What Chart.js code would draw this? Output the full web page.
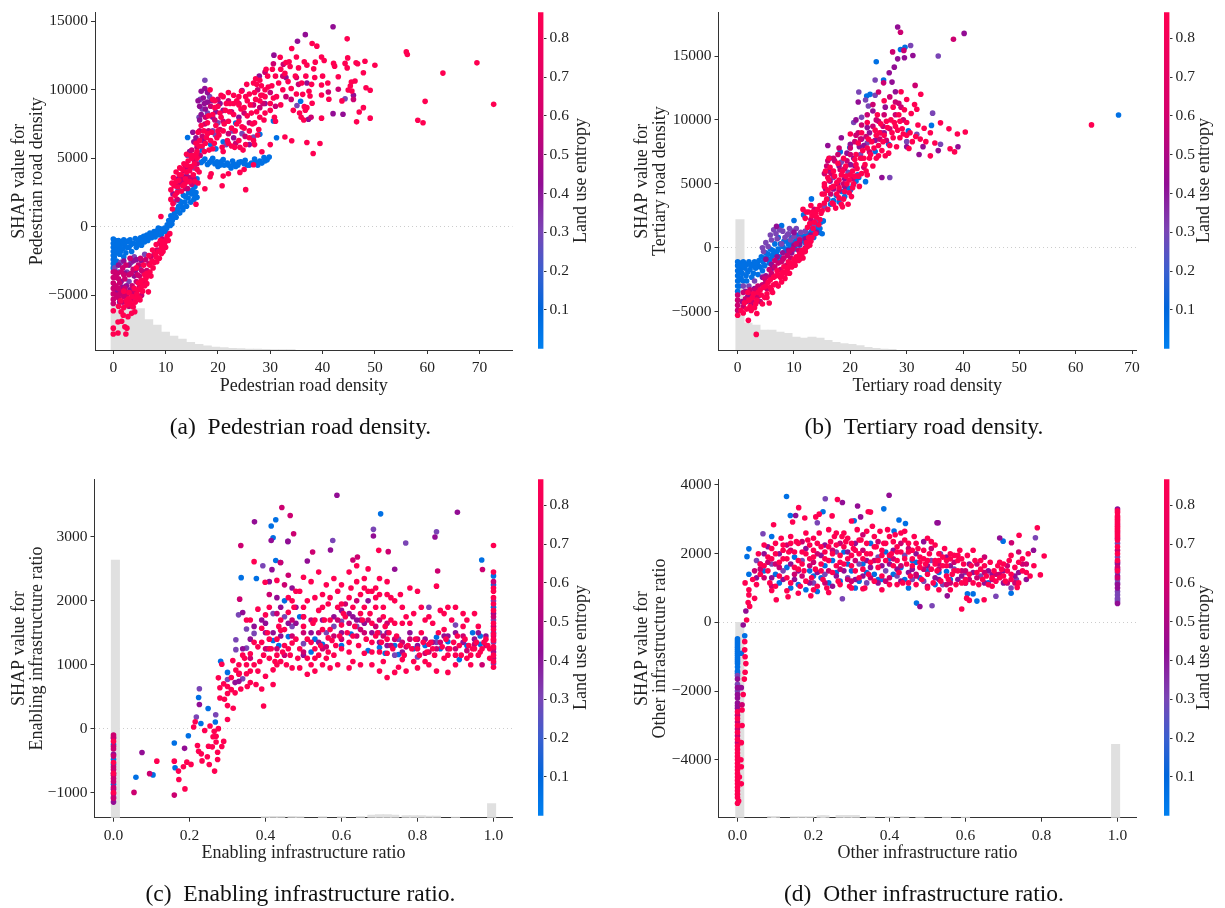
<!DOCTYPE html>
<html><head><meta charset="utf-8">
<script src="https://cdn.jsdelivr.net/npm/chart.js@4"></script>
<style>html,body{margin:0;padding:0;background:#fff;width:1225px;height:908px;overflow:hidden}canvas{position:absolute}</style>
</head><body>
<script>
// entropy level of each colour group, and the colour map of the colour bar
const entropyLevels=[0.05,0.3,0.42,0.6,0.82];
const mapStops=[[0,'#0080f0'],[0.12,'#0066dc'],[0.23,'#3a5fcf'],[0.35,'#7a45b5'],[0.49,'#920d94'],[0.7,'#d4006c'],[1,'#ff0051']];
const groupColors=['#0070e4','#7a45b5','#920d94','#cc0070','#ff0051'];
const cbTicks=[0.1,0.2,0.3,0.4,0.5,0.6,0.7,0.8];

// (a)
const aXT=[0,10,20,30,40,50,60,70], aYT=[-5000,0,5000,10000,15000];
const aBlue=[0,-900,0,-1200,0,-1500,0,-1800,0,-2100,0,-2400,0,-2700,0,-3000,.4,-1000,.5,-1400,.5,-1900,.6,-2500,1,-1000,1.1,-1500,1.2,-2000,1.6,-1100,1.8,-1600,2,-950,2.2,-1300,2.4,-1900,2.8,-1050,3,-1500,3.2,-950,3.5,-1800,3.8,-1200,4.2,-850,4.4,-1500,4.8,-1050,5.2,-800,5.4,-1350,5.8,-700,6,-1100,6.4,-600,6.6,-1000,7,-450,7.3,-800,7.8,-350,8,-750,8.4,-300,8.8,-600,9,-150,9.4,-350,9.8,-100,10,-350,10.3,150,10.6,450,10.9,100,11,800,11.3,500,11.7,1000,12,700,12.3,1300,12.7,1000,13,1500,13.3,1250,13.7,1800,14,1500,14.3,2100,14.8,1800,15,2400,15.4,2000,15.8,2500,16,2150,15.6,2950,14.6,2600,13.4,2300,12.6,1900,16.8,4700,17.5,4950,18,4550,18.8,4850,19.4,4600,20,4400,20.6,4750,21.2,4500,21.8,4650,22.5,4300,23,4600,23.8,4500,24.4,4750,25.2,4850,25.6,4500,26.4,4650,27,4950,27.6,4500,28.4,4650,28.8,5050,29.4,4900,29.8,5100,28,6760,31.2,6500,14.2,6520,19.6,5690,35.8,9170,23.4,7580,30.6,7730,18.6,6000,21,6200,16.2,5400,17,5600,13.2,3200,12.4,2700,15,3400,16,3500];
const aBlue2=[1.4,-1300,2.6,-1500,3.4,-1300,4.6,-1200,5,-1300,5.6,-1000,6.2,-900,6.8,-700,7.5,-600,8.2,-550,8.6,-100,9.2,-550,9.6,-250,10.2,-100,10.8,300,11.2,200,11.5,800,12,1100,12.5,1500,13,1800,13.8,2200,14.4,2500,15.2,2700,15.6,2300,.2,-1300,.3,-1700,.2,-2200,.3,-2700,.8,-1300,.9,-1800,1.4,-1800,2,-2200,17.2,4800,18.4,4700,19,5000,19.8,4750,20.4,4500,21,4900,22,4500,22.8,4800,23.4,4400,24,4700,25,4600,26,4500,27.2,4700,28,4800,29,4800];
const aViolet=[17.5,10700,16.6,9300,17,8600,16.4,8000,18,8300,19,7000,20,7600,21.6,6000,22.8,7000,35.1,8850,26.8,6550,24.6,6800,13,3100,14.2,5200,11.6,1800,5,-3000,3.4,-2600,1.4,-2600,2.6,-3300,.3,-3000,4,-2200,6,-2000,44.3,9350,18.4,9500,3,-4000,1,-3300,19.5,6700,15.5,4300];
const aPurple=[36.7,14030,35.2,13550,30.7,12530,27.9,11000,42,14610,42,8260,43.9,8220,37.3,7850,16.5,8800,16.8,9900,17.2,9400,16.5,7800,17.6,8600,18,9100,15.8,6500,15.2,6900,17.5,10100,24.6,9950,19,8000,21,8500,23,6500,24,8000,29,9000,33,10900,1,-2800,2,-2500,3,-2800,4.4,-2400,.5,-3500,1.5,-4000,2.5,-4300,4,-3600,5.4,-2500,.2,-4400,26,6000,14,3700,12.4,3500,11.4,2400,45.9,9600,37,10500];
const aPurple3=[.7,-4700,1.7,-4400,3.2,-4600,4.2,-3200,2.2,-3400,3.8,-2500,1.2,-5500,16.2,9200,16.8,8200,17.4,9000,18,9800,18.8,9200,19.6,8400,20.4,9000,15.4,6200,14.6,5500,13.8,4400,13,3700,12,3000,16,6200,17.2,6300];
const aMag=[0,-3300,0,-3700,0,-4100,0,-4500,0,-4900,0,-5300,0,-5600,.4,-3700,.5,-4300,.6,-5000,1,-3800,1,-4500,1,-5200,1.5,-3300,1.6,-4700,1.8,-5500,2,-3500,2,-5100,2.4,-2800,2.8,-4800,3,-3500,3,-5800,3.4,-5300,3.6,-4300,3.8,-3100,4.2,-4800,4.6,-3500,5,-3600,5,-4400,5.4,-5000,5.8,-3300,6.2,-2400,14.2,2800,14.6,3600,15.4,4900,16,5800,16.5,7000,17.5,7500,15,5600,13.5,4100,30.6,11900,29,11290,32.5,11860,41.1,9840,43,10040,45.9,9300,37.8,8000,35,10900,33,9500,28,8700,25,8300,22,9200,20,9300];
const aMag2=[.3,-3300,.8,-3400,1.2,-4100,1.3,-4900,1.8,-3000,2.2,-3800,2.2,-4500,2.6,-5000,3.2,-2300,3.4,-3400,3.6,-4800,4,-5100,4.4,-4000,4.8,-2800,5.2,-2300,5.4,-3200,5.8,-4000,6.4,-3200,6.8,-2700,7.2,-2200,7.8,-2000,8.4,-1700,8.8,-1200,9.4,-900,12.2,2000,12.8,3200,13.4,3400,13.8,2800,14.4,4300,15,3100,15.4,3500,16,4600,16.6,5200,17,6600,17.6,8000,18.2,7000,18.6,8800,19.4,7800,20.4,7100,21,7700,22,6800,22.6,8400,23.4,6100,24,9000,25.2,6600,26,7600,26.8,8900,27.6,10000,28.6,9000,30,9800,31,8800,32.4,11000,34,9300,35.4,10400];
const aRed=[0,-6130,0,-7400,0,-7830,.9,-7760,.9,-6950,1.6,-6900,2.2,-7300,2.6,-7400,2.4,-7830,1.9,-6450,2.8,-6560,3.5,-6320,4.1,-6200,2.9,-5250,6.7,-4750,6.4,-4150,7,-3300,8.3,-2550,9.2,-1950,10.5,-1000,10.8,-500,5.1,-5350,3.8,-5850,1,-5800,1.5,-6200,2,-5900,2.5,-5400,3.5,-5700,4.2,-5500,4.5,-4900,5,-5200,5.2,-4500,5.6,-4700,6,-4300,6.2,-3800,6.6,-3600,7,-2800,7.4,-2500,7.6,-3000,8,-2000,8.6,-1800,9.2,-1500,9.5,-1800,9.8,-1200,10,-1500,10.3,-700,5.5,-3900,4.8,-4100,5.8,-2800,6.8,-2100,7.5,-1700,8.2,-1300,9,-1000,4.4,-3000,9.1,750,11.3,1300,11,2000,11,2700,11.2,3200,11.5,3600,11.8,2300,12,4000,12.3,2900,12.5,3400,12.7,4300,13,3800,13.3,3000,13.5,4600,13.8,3500,14,4000,14.3,4800,14.6,3300,14.8,4400,15,5000,15.3,3800,15.5,4600,15.8,5300,16,4200,16.2,3200,17.5,2780,15.8,1650,16,5500,16.5,6300,17,5900,17.3,7000,17.8,6500,18,7600,18.3,5600,18.8,6900,19,8200,19.3,6100,19.6,7400,20,8800,20.2,6700,20.6,8000,21,5500,21,7000,21.4,8500,21.8,6300,22,7700,22.3,9000,22.6,5900,23,8200,23.3,7000,23.6,9200,24,6300,24,7700,24.4,8600,24.8,5600,25,7200,25.3,9500,25.6,8100,26,6500,26.2,8900,26.6,7500,27,9800,27,6000,27.4,8400,27.8,7100,28,9200,28.3,10300,18.7,3870,18.5,3650,21,3700,20.8,3000,22,3870,24.2,3970,25.3,2710,25,4180,26.8,4530,28.4,5480,18.5,10000,19,9300,21,9500,25.5,10400,24.5,9900,27.4,10400,28,10700,28.5,9600,29,8300,29,10000,29.5,11000,30,9000,30.3,10300,30.8,8000,31,11000,31.2,9500,31.6,10500,32,11500,32,8900,32.4,10000,32.8,11200,33.4,10600,33.8,11700,34,10100,34.4,8500,34.8,11000,35,9700,35.4,11600,35.6,8300,36,10500,36.4,7800,36.8,11000,37,8700,37.4,9900,30,6000,32.8,6560,34.1,6280,34.1,13020,31.9,12380,33.6,12050,36.5,12050,38,13380,38.9,13190,39.8,12400,40.3,12140,38.6,12020,38.3,11530,42.1,11930,42.3,11730,44.3,11930,44.8,12330,44.7,11600,44.7,13720,46.4,11970,46.7,11900,48.1,12090,50,11790,47.8,11250,43,10950,46.2,10640,45.5,10570,45.3,10280,44.9,9990,45.6,9910,48.3,10150,49.1,9970,39.8,10350,37.9,10400,37.6,9550,39.8,9620,36.2,9670,41.2,9310,43.7,9190,38,9020,36.5,8770,36.7,8510,39.8,7930,35.9,8000,47,8380,47.8,8700,49.1,7930,46.5,7660,37,6150,39.5,6080,38.2,5350,40,11000,41,10500,38.5,10900,56,12770,56.2,12580,69.5,11970,63,11220,59.6,9160,58.2,7780,59.2,7600,72.7,8940];
const aRed2=[16.2,6900,16.8,7400,17.6,6100,18.2,8100,18.6,6300,19,5700,19.4,8700,19.8,6500,20,7000,20.4,8300,20.8,5800,21.2,7500,21.6,9000,22,6100,22.2,8400,22.6,7200,23,9000,23.2,5800,23.6,7500,24,8900,24.2,5800,24.6,7300,25,8700,25.3,6000,25.6,9200,26,7000,26.4,8300,26.8,6300,27,7600,27.2,9300,27.6,6700,28,8000,28.2,9600,28.8,7800,29,9500,29.6,10200,30,8500,30.6,9400,31,7700,11.4,1700,11.6,3000,12,3300,12.2,2500,12.6,3800,13,2600,13.2,4200,13.6,3100,14,4500,14.2,3300,14.6,4100,15,4400,15.3,5200,15.6,3300,16,5000,16.4,4000,1.4,-5400,2,-4700,2.6,-5700,3,-4800,3.2,-5500,3.6,-5100,4,-4500,4.4,-5200,4.8,-4600,5.2,-4000,5.6,-4300,6,-3500,6.4,-3400,7.2,-3600,7.8,-2600,8.2,-2200,8.8,-2300,9.4,-1300,10,-1000,16.4,5900,15.8,6100,14.8,5200,14,5300,17.4,5500,18,6800,19.4,9200,20.6,9600,22,9800,23,9600,24,9500,26,9700,27.2,10800,29.2,11500,30.4,11500,26.8,10500,33,12000,35,12400,37,11800];
const aHistX=[.36,1.96,3.56,5.16,6.76,8.36,9.96,11.56,13.16,14.76,16.36,17.96,19.56,21.16,22.76,24.36,25.96,27.56,29.16,30.76,32.36,33.96];
const aHistH=[13.6,13.6,13,12.3,9,7.4,5.3,4.1,3.2,2.3,1.7,1.2,.9,.7,.5,.4,.3,.25,.2,.15,.1,.1];

// (b)
const bXT=[0,10,20,30,40,50,60,70], bYT=[-5000,0,5000,10000,15000];
const bBlue=[0,-1100,0,-1400,0,-1800,0,-2200,0,-2600,0,-3000,0,-3400,.4,-1200,.5,-1700,.6,-2400,1,-1100,1.3,-1600,1.5,-2200,2,-1100,2.2,-1700,2.5,-2300,3,-1100,3.2,-1600,3.6,-2100,3.8,-1000,4,-1500,4.2,-700,4.5,-1100,5,-400,5.3,-900,5.8,-100,6.2,-600,6.6,300,7,-300,7.4,-700,7.8,1730,7.2,800,8,100,8.4,-300,8.8,500,9.3,0,9.8,400,10.2,-100,10.6,600,11,200,11.5,900,12,400,12.5,900,13,1200,13.5,800,14,1500,14.5,1200,14.8,2000,10,2130,11.7,2570,13.1,3820,16,3800,17,3700,18,3600,19,4000,20,4500,21,5200,21.3,5700,22.7,5170,24.4,7530,26.8,8100,30.3,9140,19.9,7840,18.2,7500,34.4,9570,28.9,15510,24.6,14550,25.9,13120,22.9,11870,29.7,15690,23.5,12000];
const bBlue2=[.3,-1500,.2,-2000,.3,-2500,.3,-3000,.8,-1400,.8,-2000,1,-2600,1.6,-1300,1.8,-1900,2.2,-1300,2.8,-1400,2.8,-2000,3.5,-1300,4.4,-1800,4.8,-800,5.4,-500,5.8,-900,6.2,-200,6.8,-500,7.2,-100,7.6,300,8.2,500,8.6,-100,9,300,9.6,800,10,200,10.4,700,10.8,1000,11.2,500,11.8,800,12.2,1100,12.8,600,13.2,1500,13.8,1300,14.2,1800,14.6,1500,15.2,2100,15,1100,3.2,-1200,2.4,-1400,1.2,-1300,1.6,-2600,4.8,-1400,5.6,-1200,7,-1000,17.5,4100,18.5,4400,19.5,4700,20.5,4900,21.5,5500,16.5,3400];
const bViolet=[30.7,15820,24.4,13120,34.6,10530,31.8,8880,21.5,12180,22.7,11560,24.4,11930,23.2,11090,5.8,1000,6.4,1400,7,700,8,1300,9,1100,5,400,4.4,0,8.8,1000,10,900,11,700,12.4,600,13.4,1700,14,2200,12,1300,20.6,9800,22,10200,23,8200,21.8,7300,18.4,6700,17,5500,19.6,5900,27,5500,30,8300,3,-2600,1,-3000,2,-3000,35.6,15000,36,8100,6,600,6.8,1100,7.4,1400,8.4,800,9.2,1500,9.8,1300,10.4,1500,11.2,1200,7.8,300,9.4,600,4.6,-300,5.4,100,15.4,3200,16.4,7000];
const bPurple=[28.4,17270,31.1,15040,28.4,14780,29.6,14860,27.8,14130,26.9,13690,27.4,12960,21.4,11400,6.9,1680,32.2,7300,32.9,7910,30,7900,35.6,7600,39.1,7900,40.2,16770,5,-900,6.2,-1600,8,-900,3,-3200,1.8,-3800,.8,-4200,2.4,-4400,4.4,-2300,10,1200,9.6,-400,16,8000,18.4,8600,24,10700,21,10000,20,8100,16.4,5200,19,4800,25.6,5500,20,6500,23.4,9000,26.2,11000,28,12200];
const bPurple3=[16.2,6000,17,4600,18,6400,19.4,7400,20.6,7000,21.6,7900,22.4,8000,23,9400,24.4,8400,25.4,9000,26,9000,22,8500,15.6,4600,17.8,5000,19,5400,20.8,6400,3.6,-3800,1.4,-3400,2.4,-3600,5,-2200,6,-1300,7,-700,8,-400,9,-200,10,200,11,300,12,700,13,1000,14,1200];
const bMag=[29.5,15440,27.5,15320,25.9,12900,31.5,12700,25,12180,28.9,16860,0,-3700,0,-4100,0,-4500,0,-4900,1,-3500,1,-4600,1.6,-4200,2.2,-3300,3,-3800,3.6,-3000,4,-4200,4.8,-2400,5.6,-1700,6.6,-1000,7.6,-1700,8.6,-1400,9.4,-800,10.8,-200,12,0,13,2200,13.6,3000,16,6800,17,7000,18,7800,19,6200,20,7300,21,8800,22,9600,23,10400,24,11200,25,9900,26,10400,27,11800,28,11400,38.3,16310,18,4500,16.5,4200,22,7000,29,11000];
const bMag2=[1.4,-4000,2,-3500,2.6,-4200,3.2,-3300,3.8,-3700,4.4,-2900,5,-2700,5.2,-3200,5.6,-2300,6,-2000,6.6,-1500,7.2,-1200,7.8,-1100,8.2,-800,8.8,-600,9.2,-300,9.8,-100,10.4,300,11,600,15.4,5800,15.8,6400,16.6,5800,17.2,6800,17.8,7300,18.2,6100,18.8,5000,19.4,6800,20,7800,20.4,5400,20.8,8300,21.4,9000,21.8,8500,22.4,6300,22.8,8700,23.4,7500,24,9500,24.6,10000,25.2,8500,25.8,9500,26.4,8400,27,9300,28,10400,28.6,11300,29.4,10000];
const bRed=[0,-5280,1.9,-5680,3.4,-5140,5.6,-4320,7.8,-2680,10.2,-1370,12,-80,3.3,-6780,.6,-4900,1,-5100,1.6,-4800,2,-4100,2.4,-4900,2.8,-3600,3.2,-4400,3.6,-3500,4.2,-3700,4.6,-3100,4.8,-3900,5.2,-3600,5.4,-2700,5.8,-3100,6.2,-3500,6.4,-2300,6.8,-2800,7,-1800,7.2,-3000,7.6,-2300,8,-1900,8.4,-2400,8.8,-1700,9,-1100,9.2,-2000,9.6,-1500,10,-900,10.4,-700,10.8,-1000,11,-500,11.4,-200,11.6,-800,12.2,400,12.6,800,13,500,13.4,1500,13.8,1100,14,2400,14.4,1800,14.2,3000,12,2300,11.6,3000,12.6,2800,13,3300,14.8,2700,15,2900,15,4200,15.4,3500,16,4500,16,3000,16.8,3500,17,4800,17.4,3100,18,5300,18,3900,18.6,3200,19,4400,19.2,5600,19.6,3400,20.2,4000,20.6,5000,16,5500,16.4,6300,17,6000,17.6,5100,17.8,6600,18.4,5700,18.8,7000,19.2,6400,19.8,5300,20.4,6000,20.8,6900,21.2,6200,21.6,4800,21.4,8200,22,5800,22.2,7600,22.6,6500,23,5700,23,7800,23.4,7000,23.8,8300,24,6400,24.4,9200,24.6,7000,25,8000,25.2,9000,25.6,7600,26,8800,26.2,7200,26.6,9400,27,8000,27.2,10000,27.6,8600,27.6,11000,28,9500,28.2,7900,28.6,10400,28.8,8600,29,12200,29.2,9300,29.6,10800,30,11600,30,9800,30.4,7770,30.6,9000,30.8,10500,31,8300,31.4,11200,31.8,10830,31.6,8700,32,9600,32.5,12010,32.4,8500,33.1,9350,33.4,8300,34.2,9000,34.2,7190,35,8200,36,9770,37.5,9300,37.7,7740,39,8900,40.4,9060,38.5,7500,62.8,9610,23,9800,24.8,10400,26,11500,22,9000,21,7300,20,8900];
const bRed2=[1.2,-4300,1.8,-3500,2.2,-4600,2.6,-3900,3,-4700,3.4,-4100,4,-3300,4.4,-4400,5,-3000,5.2,-3900,5.8,-2500,6,-3300,6.4,-2900,6.8,-2200,7.2,-2100,7.8,-2200,8.2,-1500,8.6,-2000,9,-1500,9.4,-1200,10,-1300,10.4,-1000,11,-900,11.4,-500,12,-300,12.4,100,12.8,200,13.2,800,15.4,4800,15.8,3800,16.2,5300,16.6,4700,17,3400,17.2,5600,17.6,4200,18,4700,18.4,3400,18.6,6000,18.8,3800,19.4,5000,19.8,4300,20,5700,20.4,4700,20.8,5600,21,6500,21.4,5600,21.8,7000,22.4,7000,22.8,6000,23.2,8500,23.6,7300,24.2,7800,24.6,8800,25,7200,25.4,9700,25.8,8300,26.4,9900,26.8,7400,27.4,9000,27.8,9800,28.4,9200,28.8,9900,29.4,8900,30,8800,15.6,6000,16.2,7000,15.4,5000,12.4,1600,12.8,1900,13.2,2500,13.6,2000,13.8,2700,14.6,2200,14.6,3300,15.4,4200,13.4,2800,12.2,2800];
const bBlueTop=[67.6,10390];
const bHistX=[.41,1.83,3.25,4.67,6.09,7.51,8.93,10.35,11.77,13.19,14.61,16.03,17.45,18.87,20.29,21.71,23.13,24.55,25.97,27.39];
const bHistH=[38.6,8,7.4,5.9,5.9,5.3,4.9,3.8,3.5,3.8,3.5,2.9,2.3,1.9,1.7,1.3,.8,.5,.3,.2];

// (c)
const cXT=[0,.2,.4,.6,.8,1], cYT=[-1000,0,1000,2000,3000];
const cBlue=[0,-250,0,-480,0,-560,0,-870,.059,-762,.104,-724,.16,-224,.162,-613,.197,-112,.268,103,.249,316,.224,487,.23,80,.282,1054,.3,880,.427,3270,.415,3170,.42,2987,.427,2632,.336,2363,.376,2350,.703,3361,.969,2640,.45,2000,.42,1380,.405,1250,.435,1300,.49,1750,.46,1440,.55,1320,.6,1300,.52,1200,.53,1400,.625,1480,.67,1220,.7,1270,.715,1180,.74,1300,.75,1160,.79,1250,.82,1300,.85,1430,.86,1250,.88,1360,.91,1080,.93,1300,.945,1500,.965,1450,.965,1320,1,2390,1,2250,1,1900,1,1500];
const cViolet=[.226,623,.218,181,.269,217,.329,1781,.322,1392,.322,1236,.35,1260,.393,2549,.459,2930,.684,3119,.85,3081,.769,2904,.577,2945,.35,1560,.37,1490,.3,770,.34,780,.42,1800,.45,1750,.47,1600,.5,1330,.56,1500,.58,1600,.6,1680,.64,1600,.7,1500,.75,1400,.8,1120,.85,1350,.9,1620,1,2000,1,1700,1,1350,1,1020,.74,1150,.83,1900,0,-700,0,-1070];
const cPurple=[.588,3652,.075,-374,.187,-309,.226,378,.371,3236,.415,2945,.459,2930,.684,3015,.846,3000,.905,3387,.571,2795,.51,2624,.74,2495,.34,1817,.417,2488,.44,2600,.33,740,.32,720,.36,1400,.4,1500,.44,1900,.47,2200,.48,1900,.52,1500,.55,1700,.6,1500,.62,1800,.66,1650,.72,1500,.78,1500,.82,1400,.87,1450,.9,1500,.95,1400,1,1800,1,1200,0,-150,0,-400,0,-950,0,-1150,.5,1150,.67,2000,.64,1700];
const cPurple3=[.4,1650,.42,1500,.44,1450,.46,1650,.48,1650,.5,1750,.54,1350,.58,1750,.6,1850,.63,1750,.65,1700,.68,1500,.7,1350,.72,1300,.76,1200,.8,1300,.84,1350,.88,1450,.92,1350,.96,1500,.98,1450,.34,1250,.37,1600,.39,1700,.41,2300,.43,2050];
const cMag=[.054,-998,.16,-1040,.095,-705,.443,3460,.465,3335,.474,3050,.335,2866,.332,2026,.63,2640,.642,2687,.723,2770,.524,2765,.853,2467,.971,2490,.439,2600,.41,2100,.43,1800,.45,2250,.47,1700,.5,1200,.54,1500,.56,1280,.59,1700,.61,1950,.64,2000,.66,1500,.7,1700,.73,1300,.77,1280,.82,1180,.86,1350,.92,1450,.97,1000,1,2300,1,1600,1,1100,0,-100,0,-320,0,-640,0,-780,0,-1020];
const cMag2=[.36,1100,.4,1250,.43,1250,.45,1150,.46,2400,.47,1450,.5,1500,.52,1700,.55,1250,.58,1450,.6,1400,.62,1650,.64,1450,.65,1550,.67,1700,.69,1600,.71,1450,.72,1650,.74,1400,.76,1350,.78,1400,.8,1400,.83,1200,.85,1250,.88,1250,.9,1250,.93,1220,.95,1320,.98,1300,1,1750,1,1450,1,1250,0,-130,0,-280,0,-430,0,-600,0,-730,0,-830,0,-920,0,-1090];
const cRed=[.114,-509,.16,-509,.171,-665,.172,-795,.188,-943,.184,-597,.193,-525,.204,-560,.221,-265,.224,-355,.231,-395,.233,-505,.247,-439,.252,-562,.266,-665,.274,-370,.274,-484,.25,-275,.26,-285,.262,-128,.27,-120,.276,0,.3,144,.215,107,.211,25,.254,40,.265,-40,.24,-30,.285,-280,.27,-210,.29,-200,.276,795,.314,1065,.322,916,.331,865,.285,1008,.292,460,.3,360,.31,610,.28,480,.3,550,.315,320,.32,560,.335,620,.35,860,.352,660,.36,720,.37,1000,.38,900,.375,690,.39,620,.395,353,.4,820,.41,1100,.42,920,.42,690,.44,1050,.36,1170,.38,1280,.39,1570,.4,1780,.41,1400,.43,1150,.44,1540,.45,1300,.46,1820,.48,1400,.485,1100,.5,1600,.52,1000,.53,1250,.54,1850,.37,2613,.399,2290,.36,1700,.35,1700,.38,1870,.41,1900,.43,2320,.45,1550,.46,2050,.48,2150,.5,2370,.52,2300,.54,2450,.55,2100,.56,1100,.565,1950,.58,1150,.59,2150,.6,1250,.6,1950,.62,1350,.63,1050,.64,2300,.65,1800,.66,1180,.67,2500,.68,1350,.69,1900,.7,2100,.71,1050,.72,1400,.73,2050,.74,1650,.75,960,.76,1080,.77,1750,.78,1650,.79,1050,.8,1250,.81,1500,.82,1050,.83,1750,.84,1250,.85,2230,.86,1850,.87,1100,.88,1150,.89,1700,.9,1150,.91,1300,.92,1800,.93,1100,.94,1150,.95,1250,.96,1150,.97,1250,.98,1400,.99,1100,.698,2790,.69,1450,.715,1600,.72,1180,.755,2100,.78,2200,.8,2150,.81,1900,.83,1320,.87,1550,.62,2050,.565,1420,.575,1380,.51,1400,.53,1100,.47,1340,.43,1400,.5,1900,.55,1550,.57,1700,.6,1620,.63,1450,.66,1900,.68,1650,.7,1200,.73,1700,.88,1900,.92,1600,.96,1600,1,2867,1,2450,1,2150,1,1400,1,1050,1,960,0,-200,0,-530,0,-1000,0,-700];
const cRed2=[.33,1000,.345,1100,.36,900,.385,1050,.395,1150,.405,1500,.415,1250,.425,1050,.435,1600,.445,1200,.455,1000,.465,1150,.475,1900,.49,1250,.5,1750,.51,1100,.52,1350,.525,1650,.54,1150,.545,1300,.555,1700,.565,1200,.57,2050,.585,1300,.595,1450,.605,1800,.615,1500,.62,1200,.625,2200,.635,1600,.645,1300,.655,1700,.66,2200,.665,1400,.675,1800,.68,1200,.69,2200,.695,1500,.705,1350,.71,1900,.72,2300,.725,1500,.735,1250,.745,1450,.755,1300,.76,1650,.765,1150,.775,1300,.785,1250,.795,1400,.805,1150,.815,1350,.825,1200,.835,1350,.845,1150,.855,1500,.865,1280,.875,1400,.885,1250,.895,1350,.905,1450,.915,1150,.925,1400,.935,1300,.945,1250,.955,1350,.965,1200,.975,1350,.985,1300,.99,1250,1,1150,1,1280,1,1380,1,1480,1,1550,1,1650,1,1850,1,1950,1,2050,1,2200];
const cRed3=[.47,950,.49,950,.51,850,.53,900,.55,1000,.57,950,.59,1000,.62,950,.65,1000,.68,1000,.7,900,.72,800,.74,880,.77,900,.8,950,.83,1000,.85,900,.88,880,.9,1000,.94,1000,.44,1700,.47,2000,.49,2150,.51,2000,.53,2050,.56,2250,.58,2350,.6,2250,.62,2450,.64,2550,.66,2350,.68,2150,.7,2350,.72,2100,.74,2000,.76,1900,.79,1800,.82,1700,.84,1650,.87,1800,.9,1900,.93,1700,.95,1800,.63,1900,.65,2100,.67,2150,.69,2050,.71,1750,.59,1900,.61,1750,.57,1550,.55,1900,.53,1700,.41,1250,.39,1350,.37,1350,.35,1000,.34,1150,.33,850,.31,800,.29,700,.28,640,.3,660,.43,1000,.46,1250];
const cHistX=[.005,.4,.42,.44,.47,.49,.55,.6,.65,.68,.7,.72,.74,.77,.79,.81,.83,.85,.9,.995];
const cHistH=[76.1,.3,.4,.4,.4,.3,.3,.3,.4,.8,.9,.9,.8,.6,.6,.6,.5,.5,.2,4.2];

// (d)
const dXT=[0,.2,.4,.6,.8,1], dYT=[-4000,-2000,0,2000,4000];
const dBlue=[0,-480,0,-600,0,-720,0,-840,0,-960,0,-1080,0,-1200,0,-1420,.01,-900,.019,-387,.025,1913,.03,2140,.03,1400,.129,3664,.139,3110,.225,3220,.385,3305,.425,2980,.442,2880,.307,2960,.412,2660,.471,562,.1,1400,.14,1000,.16,1100,.13,1600,.19,1500,.22,1300,.21,900,.25,1800,.27,1200,.28,2050,.3,1500,.31,1000,.33,1700,.35,2300,.36,1400,.38,1250,.4,1850,.43,1600,.45,1000,.47,1750,.5,1500,.53,1450,.605,830,.62,830,.55,1480,.699,2365,.63,620,.09,2500];
const dBlue2=[.07,1500,.11,1150,.15,1900,.18,950,.2,1350,.23,1650,.24,1150,.26,1450,.29,1700,.32,1200,.34,1450,.37,1250,.39,2050,.41,1400,.44,1250,.46,1800,.48,1300,.52,1100,.56,1250,.6,1150,.66,1150,.72,850,0,-540,0,-660,0,-780,0,-900,0,-1020,0,-1140,0,-1300,0,-1480];
const dViolet=[.231,3597,.067,2580,.276,687,.512,484,.21,2900,.17,1800,.12,1500,.2,1150,.23,1400,.26,2050,.29,1300,.32,1700,.34,1150,.37,1900,.39,1500,.42,1350,.44,1950,.46,1250,.49,1200,.51,1800,.54,1100,.57,1550,.6,1450,.64,1350,.68,760,.72,1000,.734,1250,.784,2465,0,-1550,0,-1800,0,-2000,1,650,1,800,1,1150,1,1450,1,1900,1,2300,.09,1700,.05,1800,.534,2000,1,600,1,700,1,900,1,1250];
const dPurple=[.276,3490,.399,3700,.316,3387,.153,3110,.324,3070,.528,2900,.48,464,.552,773,.525,2900,.69,2455,.015,-77,.022,331,.06,1700,.08,2200,.11,2000,.15,1250,.18,2150,.22,1950,.25,1050,.28,1500,.31,2300,.34,1800,.38,1650,.41,2100,.43,1200,.46,1550,.49,2350,.52,1300,.55,1900,.58,1250,.61,1700,.66,1500,.7,1150,.74,1450,.779,2100,0,-2200,0,-2350,0,-2500,1,550,1,1000,1,1700,1,2450,1,3300,.01,-1900];
const dPurple2=[.05,1300,.07,2000,.09,1300,.12,1250,.14,1700,.16,1500,.19,1150,.21,1450,.23,2250,.26,1350,.29,2050,.31,1250,.33,1350,.35,1600,.37,1150,.4,1700,.42,1550,.45,1450,.47,2000,.5,1650,.53,1250,.56,1650,.59,1350,.62,1450,.65,1150,.67,1400,.7,1500,.73,1350,.76,1250,0,-1650,0,-1900,0,-2100,0,-2430,1,1100,1,1350,1,1550,1,1750];
const dMag=[.1,1700,.14,2100,.17,1350,.2,1750,.24,1500,.27,2300,.3,1200,.33,2100,.36,1800,.4,1300,.43,2300,.47,1400,.5,1050,.53,1700,.56,1150,.6,1500,.63,1300,.65,1900,.68,1400,.71,1150,.74,2050,.76,1700,.721,2320,0,-2700,0,-2900,0,-3100,0,-3300,0,-3500,.012,-2400,1,1300,1,1600,1,2100,1,2600,1,2850,.045,1500,.07,1300];
const dMag2=[.06,1550,.08,1750,.09,1050,.11,1600,.13,2250,.15,1400,.17,2350,.19,1650,.21,2000,.23,1150,.25,2100,.27,1550,.29,1250,.31,1800,.33,2550,.35,1300,.37,2350,.39,1200,.41,1850,.43,1650,.45,2150,.47,1350,.49,1550,.51,2150,.53,1550,.55,1100,.57,1750,.59,1500,.61,1250,.63,1700,.65,1450,.67,1250,.69,1400,.71,1650,.73,1150,.75,1700];
const dRed=[.024,70,.032,465,.028,580,.045,700,.03,800,.03,950,.02,1150,.04,1250,.019,-560,.019,-800,.02,-1000,.022,-1200,.02,-1450,.018,-1650,.015,-2100,.012,-2550,.012,-3000,.01,-3500,.01,-4200,.005,-4500,.01,-4700,.003,-5200,0,-3700,0,-3900,0,-4100,0,-4300,0,-4500,0,-4700,0,-4900,0,-5100,0,-5265,.161,3340,.177,3040,.206,3070,.215,3150,.249,3100,.263,3575,.344,3220,.35,3210,.095,2840,.145,2920,.3,2950,.102,658,.133,745,.193,775,.09,930,.13,920,.16,850,.2,950,.24,870,.27,1100,.3,1000,.33,980,.38,950,.42,1100,.45,1150,.5,1000,.53,950,.56,950,.59,388,.603,706,.61,640,.649,658,.736,1018,.789,2754,.741,2536,.807,1933,.797,1382,.77,1350,.75,1850,.7,1700,.72,1400,.67,1050,.64,1550,.62,2100,.6,1150,.58,1800,.55,1350,.52,1800,.5,2450,.48,1900,.46,2100,.44,2650,.42,2200,.4,2500,.38,2100,.36,2500,.34,2650,.32,2000,.3,2300,.28,2600,.26,2250,.24,2700,.22,2200,.2,2450,.18,2600,.16,2300,.14,2500,.12,2250,.1,2300,.08,1900,.06,1400,.05,1100,.055,2000,.07,1650,.085,1150,.09,2150,.1,1050,.11,1350,.115,2450,.12,1850,.13,1300,.135,2050,.14,1150,.15,1600,.155,2350,.16,1800,.165,1050,.17,2050,.175,1500,.18,1200,.185,2400,.19,1850,.195,1300,.2,2100,.205,1550,.21,1050,.215,2600,.22,1700,.225,1250,.23,2050,.235,1000,.24,1800,.245,2350,.25,1450,.255,2500,.26,1650,.265,1200,.27,1950,.275,2500,.28,1700,.285,2350,.29,1850,.295,1050,.3,1650,.305,2150,.31,1500,.315,2700,.32,1300,.325,2400,.33,1550,.335,1000,.34,2300,.345,1400,.35,2000,.355,2800,.36,1200,.365,2200,.37,1600,.375,2650,.38,1350,.385,2300,.39,1800,.395,2700,.4,1100,.405,2000,.41,1650,.415,2550,.42,1800,.425,1450,.43,2050,.435,1150,.44,2400,.445,1700,.45,2300,.455,1350,.46,1850,.465,2500,.47,1100,.475,2150,.48,1600,.485,1250,.49,2100,.495,1700,.5,1400,.505,2000,.51,1550,.515,1150,.52,2250,.525,1500,.53,2000,.535,1200,.54,1650,.545,2150,.55,1650,.555,1250,.56,1850,.565,1400,.57,1950,.575,1100,.58,1500,.585,2100,.59,1150,.595,1700,.6,1250,.605,1950,.61,1400,.615,1650,.62,1150,.625,1800,.63,1450,.635,1100,.64,1800,.645,1250,.65,1650,.655,1350,.66,1100,.665,1750,.67,1300,.675,1500,.68,1200,.685,1650,.69,1300,.695,1550,.7,1350,.705,1200,.71,1500,.715,1800,.72,1250,.73,1600,.74,1150,.75,1500,.76,1450,.765,2000,.78,1650,.72,1950,.74,1750,.69,1750,1,3200,1,3100,1,3000,1,2950,1,2800,1,2700,1,2500,1,2200,1,2000,1,1800,1,1500,.009,-4000];
const dRed2=[.06,1700,.07,2250,.08,1500,.09,1850,.1,2000,.11,1750,.12,2100,.13,1850,.14,2300,.15,2050,.16,1550,.17,1700,.18,2000,.19,2250,.2,1900,.21,2300,.22,1500,.23,1850,.24,2200,.25,2000,.26,2600,.27,1750,.28,2200,.29,2450,.3,1950,.31,2100,.32,2400,.33,1850,.34,2000,.35,1750,.36,2200,.37,1800,.38,1950,.39,2300,.4,1950,.41,2350,.42,2050,.43,2600,.44,1850,.45,2050,.46,1650,.47,2300,.48,1750,.49,1850,.5,1800,.51,2350,.52,1700,.53,1800,.54,1900,.55,1800,.56,2000,.57,1500,.58,1950,.59,1850,0,-3600,0,-3800,0,-4000,0,-4200,0,-4400,0,-4600,0,-4800,0,-5000,0,-3400,0,-3200,0,-3000,0,-2800,0,-2600,1,3250,1,3050,1,2900,1,2750,1,2650,1,2550,1,2400];
const dHistX=[.006,.09,.1,.15,.17,.19,.22,.23,.27,.29,.31,.35,.4,.44,.48,.55,.6,.995];
const dHistH=[57.7,.4,.4,.3,.3,.3,.6,.6,.7,.7,.7,.3,.3,.3,.2,.2,.2,21.7];

const panels=[
 {id:'a',left:0,top:0,pad:{l:95,r:88.5},xb:63.8,xMin:-3.5,xMax:76.3,yMin:-8996,yMax:15660,xT:aXT,yT:aYT,xFmt:v=>String(v),groups:[[...aBlue,...aBlue2],aViolet,[...aPurple,...aPurple3],[...aMag,...aMag2],[...aRed,...aRed2]],hx:aHistX,hh:aHistH,name:'Pedestrian road density',cap:'(a)  Pedestrian road density.'},
 {id:'b',left:623,top:0,pad:{l:95.5,r:89},xb:63.8,xMin:-3.4,xMax:70.7,yMin:-8000,yMax:18420,xT:bXT,yT:bYT,xFmt:v=>String(v),groups:[[...bBlue,...bBlue2],bViolet,[...bPurple,...bPurple3],[...bMag,...bMag2],[...bRed,...bRed2]],extra:bBlueTop,hx:bHistX,hh:bHistH,name:'Tertiary road density',cap:'(b)  Tertiary road density.'},
 {id:'c',left:0,top:467,pad:{l:94.5,r:88.5},xb:63.1,xMin:-.05,xMax:1.05,yMin:-1394,yMax:3902,xT:cXT,yT:cYT,xFmt:v=>v.toFixed(1),groups:[cBlue,cViolet,[...cPurple,...cPurple3],[...cMag,...cMag2],[...cRed,...cRed2,...cRed3]],hx:cHistX,hh:cHistH,name:'Enabling infrastructure ratio',cap:'(c)  Enabling infrastructure ratio.'},
 {id:'d',left:623,top:467,pad:{l:95.5,r:88.5},xb:63.1,xMin:-.05,xMax:1.05,yMin:-5685,yMax:4165,xT:dXT,yT:dYT,xFmt:v=>v.toFixed(1),groups:[[...dBlue,...dBlue2],dViolet,[...dPurple,...dPurple2],[...dMag,...dMag2],[...dRed,...dRed2]],hx:dHistX,hh:dHistH,name:'Other infrastructure ratio',cap:'(d)  Other infrastructure ratio.'}
];
const cbTitle='Land use entropy';
const SERIF="'Liberation Serif','Times New Roman',serif";
const INK='#333333', TXT='#222222';
const pairs=f=>{const o=[];for(let i=0;i<f.length;i+=2)o.push({x:f[i],y:f[i+1]});return o;};
const yFmt=v=>v<0?'\u2212'+Math.abs(v):String(v);
function mk(left,top,w,h){const c=document.createElement('canvas');c.width=w;c.height=h;c.style.left=left+'px';c.style.top=top+'px';c.style.width=w+'px';c.style.height=h+'px';document.body.appendChild(c);return c;}

panels.forEach(p=>{
 const ds=[{type:'bar',label:'hist',data:p.hx.map((x,i)=>({x,y:p.hh[i]})),backgroundColor:'#e0e0e0',barThickness:8.4,xAxisID:'x',yAxisID:'yh',order:20}];
 p.groups.forEach((g,i)=>ds.push({type:'scatter',label:'entropy '+entropyLevels[i],data:pairs(g),backgroundColor:groupColors[i],borderWidth:0,pointRadius:2.8,xAxisID:'x',yAxisID:'y',order:10-i}));
 if(p.extra)ds.push({type:'scatter',label:'entropy low',data:pairs(p.extra),backgroundColor:groupColors[0],borderWidth:0,pointRadius:2.8,xAxisID:'x',yAxisID:'y',order:1});
 new Chart(mk(p.left,p.top,p.left?602:601,450),{type:'scatter',data:{datasets:ds},options:{
  responsive:false,animation:false,events:[],
  layout:{padding:{left:0,right:0,top:11,bottom:0}},
  plugins:{legend:{display:false},tooltip:{enabled:false},
   title:{display:true,position:'bottom',text:p.cap,color:'#111',font:{family:SERIF,size:23.5,weight:'normal'},padding:{top:0,bottom:8}}},
  scales:{
   x:{type:'linear',offset:false,min:p.xMin,max:p.xMax,afterBuildTicks:s=>{s.ticks=p.xT.map(value=>({value}));},afterFit:s=>{s.height=p.xb;},
    grid:{display:true,offset:false,drawOnChartArea:false,tickColor:INK,tickLength:4},border:{display:true,color:INK,width:1},
    ticks:{color:TXT,font:{family:SERIF,size:15.5},padding:5,maxRotation:0,autoSkip:false,callback:p.xFmt},
    title:{display:true,text:p.name,color:TXT,font:{family:SERIF,size:18},padding:{top:0,bottom:17}}},
   y:{type:'linear',min:p.yMin,max:p.yMax,afterBuildTicks:s=>{s.ticks=p.yT.map(value=>({value}));},afterFit:s=>{s.width=p.pad.l;},
    grid:{display:true,color:c=>c.tick&&c.tick.value===0?'#cccccc':'rgba(0,0,0,0)',lineWidth:1,tickColor:INK,tickLength:4},border:{display:true,color:INK,width:1,dash:[1,3]},
    ticks:{color:TXT,font:{family:SERIF,size:15.5},padding:3,autoSkip:false,callback:yFmt},
    title:{display:true,text:['SHAP value for',p.name],color:TXT,font:{family:SERIF,size:18,lineHeight:1},padding:{top:10,bottom:0}}},
   yr:{type:'linear',position:'right',display:true,min:0,max:1,afterFit:s=>{s.width=p.pad.r;},grid:{display:false},border:{display:false},ticks:{display:false}},
   yh:{type:'linear',display:false,min:0,max:100}
  }}});
 // colour bar
 const cbLeft=p.left?1146:520;
 new Chart(mk(cbLeft,p.top,79,361),{type:'bar',data:{labels:[''],datasets:[{label:'scale',data:[cbTicks[7]+.067],barPercentage:1,categoryPercentage:1,
   backgroundColor:c=>{const a=c.chart.chartArea;if(!a)return '#000';const g=c.chart.ctx.createLinearGradient(0,a.bottom,0,a.top);mapStops.forEach(s=>g.addColorStop(s[0],s[1]));return g;}}]},
  plugins:[{id:'cbTitle',afterDraw(ch){const x=ch.ctx;x.save();x.translate(p.left?58:61,(ch.chartArea.top+ch.chartArea.bottom)/2);x.rotate(-Math.PI/2);x.font='18px '+SERIF;x.fillStyle=TXT;x.textAlign='center';x.textBaseline='middle';x.fillText(cbTitle,0,0);x.restore();}}],
  options:{responsive:false,animation:false,events:[],layout:{padding:{left:18,right:0,top:11,bottom:11}},
   plugins:{legend:{display:false},tooltip:{enabled:false}},
   scales:{x:{display:false},
    y:{position:'right',min:0,max:cbTicks[7]+.067,afterBuildTicks:s=>{s.ticks=cbTicks.map(value=>({value}));},afterFit:s=>{s.width=55.5;},
     grid:{display:true,drawOnChartArea:false,tickColor:INK,tickLength:3},border:{display:false},
     ticks:{color:TXT,font:{family:SERIF,size:15.5},padding:3,autoSkip:false,callback:v=>v.toFixed(1)}}}}});
});
</script>
</body></html>
